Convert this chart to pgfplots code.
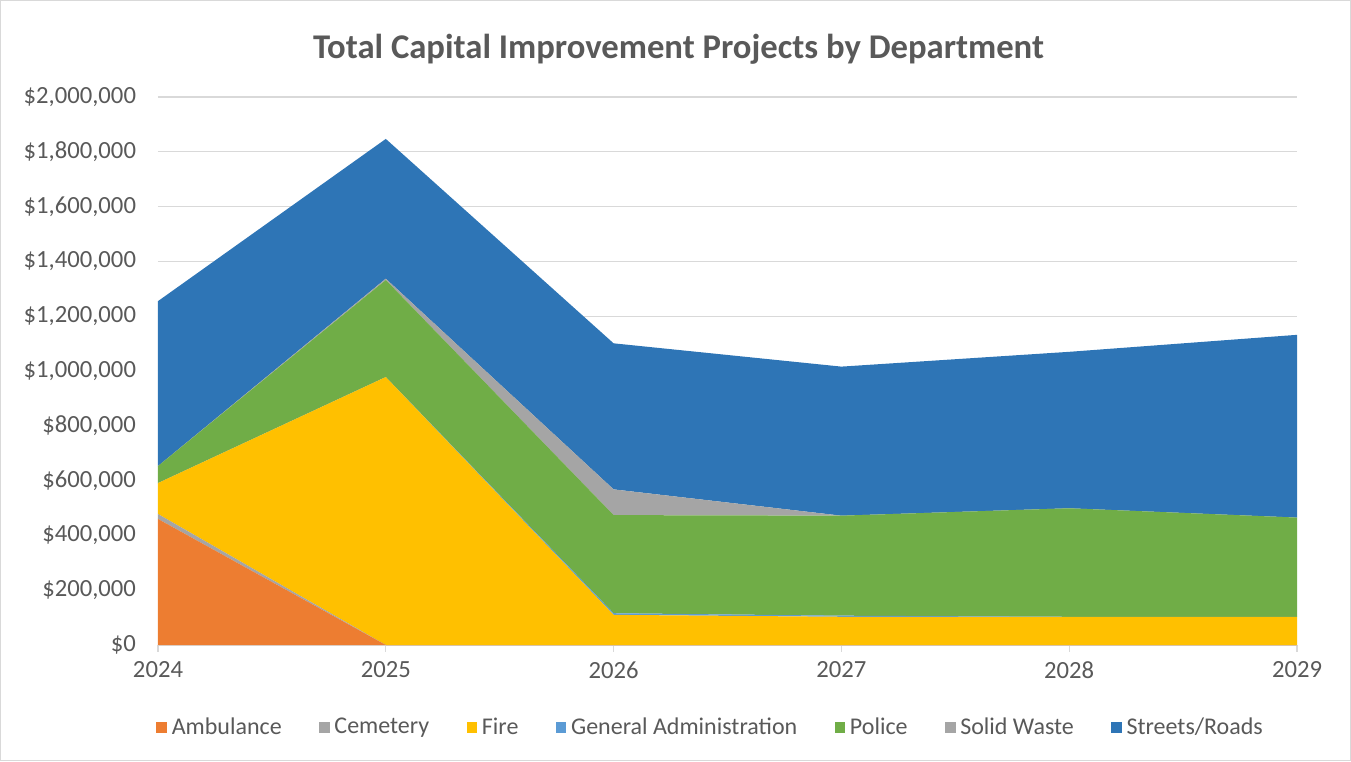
\documentclass[border=0pt]{standalone}
\usepackage{pgfplots}
\pgfplotsset{compat=1.18}
\usepackage{fontspec}
\setmainfont{Carlito}
\definecolor{txt}{HTML}{595959}
\definecolor{gridc}{HTML}{D9D9D9}
\definecolor{amb}{HTML}{ED7D31}
\definecolor{cem}{HTML}{A5A5A5}
\definecolor{fire}{HTML}{FFC000}
\definecolor{ga}{HTML}{5B9BD5}
\definecolor{pol}{HTML}{70AD47}
\definecolor{sw}{HTML}{A5A5A5}
\definecolor{str}{HTML}{2E75B6}
\begin{document}
\begin{tikzpicture}
\path[use as bounding box] (-118.5pt,-87pt) rectangle (894.75pt,483.75pt);
\draw[gridc] (-118pt,-86.5pt) rectangle (894.25pt,483.25pt);
\begin{axis}[
  at={(0,0)}, anchor=south west,
  scale only axis, width=854.25pt, height=411pt,
  xmin=0, xmax=5, ymin=0, ymax=2000000,
  stack plots=y,
  axis x line*=bottom, axis y line*=left,
  y axis line style={draw=none},
  x axis line style={draw=gridc, line width=0.8pt},
  xtick={0,1,2,3,4,5},
  xticklabels={2024,2025,2026,2027,2028,2029},
  ytick={0,200000,...,2000000},
  scaled y ticks=false,
  /pgf/number format/assume math mode=true,
  yticklabel={\$\pgfmathprintnumber[fixed,1000 sep={,}]{\tick}},
  tick label style={font=\fontsize{18.5}{20}\selectfont, text=txt},
  ytick style={draw=none},
  xtick style={draw=gridc, line width=0.8pt},
  tick align=outside, major tick length=5pt,
  yticklabel style={xshift=-8pt},
  xticklabel style={yshift=-4pt},
  ymajorgrids, grid style={gridc, line width=0.8pt},
  title={\bfseries Total Capital Improvement Projects by Department},
  title style={font=\fontsize{26}{30}\selectfont, text=txt, at={(0.457,1)}, anchor=south, yshift=15pt},
  legend columns=7,
  legend style={draw=none, fill=none, at={(0.4855,-0.15)}, anchor=center,
    font=\fontsize{18}{20}\selectfont, text=txt,
    /tikz/every odd column/.append style={column sep=1.5pt},
    /tikz/every even column/.append style={column sep=26pt}},
  legend image code/.code={\fill[#1] (0pt,-4pt) rectangle (8pt,4pt);},
  legend cell align=left,
]
\addplot[fill=amb, draw=none] coordinates {(0,460000) (1,0) (2,0) (3,0) (4,0) (5,0)} \closedcycle;
\addlegendentry{Ambulance}
\addplot[fill=cem, draw=none] coordinates {(0,18000) (1,0) (2,0) (3,0) (4,0) (5,0)} \closedcycle;
\addlegendentry{Cemetery}
\addplot[fill=fire, draw=none] coordinates {(0,113000) (1,978000) (2,110000) (3,103000) (4,103000) (5,103000)} \closedcycle;
\addlegendentry{Fire}
\addplot[fill=ga, draw=none] coordinates {(0,0) (1,0) (2,6000) (3,4000) (4,0) (5,0)} \closedcycle;
\addlegendentry{General Administration}
\addplot[fill=pol, draw=none] coordinates {(0,62000) (1,354000) (2,358000) (3,365000) (4,396000) (5,362000)} \closedcycle;
\addlegendentry{Police}
\addplot[fill=sw, draw=none] coordinates {(0,0) (1,5000) (2,94000) (3,0) (4,0) (5,0)} \closedcycle;
\addlegendentry{Solid Waste}
\addplot[fill=str, draw=none] coordinates {(0,602000) (1,510000) (2,533000) (3,544000) (4,571000) (5,667000)} \closedcycle;
\addlegendentry{Streets/Roads}
\end{axis}
\end{tikzpicture}
\end{document}
